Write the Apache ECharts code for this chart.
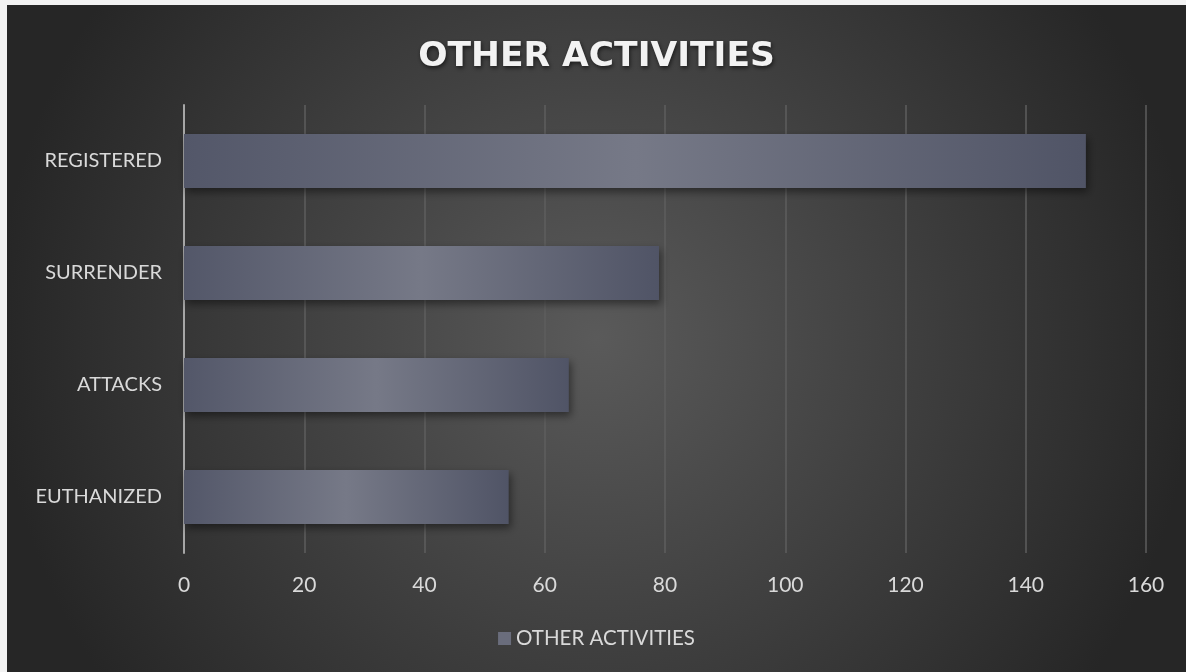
<!DOCTYPE html>
<html>
<head>
<meta charset="utf-8">
<script src="https://cdn.jsdelivr.net/npm/echarts@6/dist/echarts.min.js"></script>
<style>
  html, body { margin: 0; padding: 0; background: #f2f2f2; }
  #chart { position: absolute; left: 7px; top: 5px; width: 1179px; height: 667px; }
</style>
</head>
<body>
<div id="chart"></div>
<script>
// Activity counts, listed top to bottom
const categories = ['REGISTERED', 'SURRENDER', 'ATTACKS', 'EUTHANIZED'];
const counts = [150, 79, 64, 54];
const seriesName = 'OTHER ACTIVITIES';
const axisMin = 0, axisMax = 160, axisStep = 20;

const labelFont = 'Lato';
const labelColor = '#d9d9d9';

const chart = echarts.init(document.getElementById('chart'), null, { renderer: 'canvas' });

// Soft highlight through the middle of each bar
const barFill = new echarts.graphic.LinearGradient(0, 0, 1, 0, [
  { offset: 0, color: '#535769' },
  { offset: 0.5, color: '#767987' },
  { offset: 1, color: '#505466' }
]);

chart.setOption({
  backgroundColor: new echarts.graphic.RadialGradient(0.5, 0.5, 0.9, [
    { offset: 0, color: '#5a5a5a' },
    { offset: 1, color: '#262626' }
  ]),
  animation: false,
  title: {
    text: 'OTHER ACTIVITIES',
    left: 'center',
    top: 30,
    textStyle: {
      fontFamily: 'DejaVu Sans',
      fontWeight: 'bold',
      fontSize: 34.5,
      color: '#f2f2f2',
      textShadowColor: 'rgba(0,0,0,0.6)',
      textShadowBlur: 4,
      textShadowOffsetX: 1,
      textShadowOffsetY: 2
    }
  },
  legend: {
    bottom: 18,
    left: 'center',
    itemWidth: 13,
    itemHeight: 13,
    itemGap: 6,
    icon: 'rect',
    textStyle: { fontFamily: labelFont, fontSize: 20.5, color: labelColor },
    data: [{ name: seriesName, itemStyle: { color: '#6a6d7c' } }]
  },
  grid: { left: 177, right: 40, top: 100, bottom: 119, containLabel: false },
  xAxis: {
    type: 'value',
    min: axisMin,
    max: axisMax,
    interval: axisStep,
    axisLine: { show: false },
    axisTick: { show: false },
    axisLabel: { fontFamily: labelFont, fontSize: 21, color: labelColor, margin: 22 },
    splitLine: { show: true, lineStyle: { color: '#5e5e5e', width: 1.5 } }
  },
  yAxis: {
    type: 'category',
    data: categories,
    inverse: true,
    axisLine: { show: true, lineStyle: { color: '#a6a6a6', width: 2 } },
    axisTick: { show: false },
    axisLabel: { fontFamily: labelFont, fontSize: 20, color: labelColor, margin: 22 }
  },
  series: [{
    name: seriesName,
    type: 'bar',
    data: counts,
    barWidth: 54,
    itemStyle: {
      color: barFill,
      shadowColor: 'rgba(0,0,0,0.45)',
      shadowBlur: 8,
      shadowOffsetX: 2,
      shadowOffsetY: 4
    }
  }]
});
</script>
</body>
</html>
